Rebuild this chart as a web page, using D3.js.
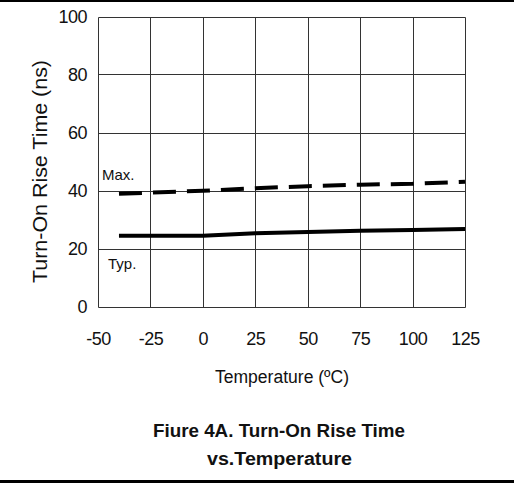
<!DOCTYPE html>
<html>
<head>
<meta charset="utf-8">
<script src="https://cdn.jsdelivr.net/npm/d3@7"></script>
<style>
  body { margin: 0; background: #fff; }
  svg { display: block; font-family: "Liberation Sans", Arial, sans-serif; }
</style>
</head>
<body>
<div id="chart"></div>
<script>
    var width = 514,
        height = 483;

    // temperature (C)
    var temps = [-40, 0, 25, 50, 75, 100, 125];
    // rise time (ns)
    var maxValues = [38.9, 39.9, 40.8, 41.5, 42.0, 42.3, 43.0];
    var typValues = [24.4, 24.4, 25.3, 25.7, 26.1, 26.4, 26.7];

    var xTicks = [-50, -25, 0, 25, 50, 75, 100, 125];
    var yTicks = [0, 20, 40, 60, 80, 100];

    var x = d3.scaleLinear().domain([-50, 125]).range([98, 465]);
    var y = d3.scaleLinear().domain([0, 100]).range([306.5, 16.5]);

    var svg = d3.select("#chart").append("svg")
      .attr("width", width)
      .attr("height", height);

    svg.append("rect").attr("width", width).attr("height", height).attr("fill", "#fff");

    // page rules
    svg.append("rect").attr("x", 0).attr("y", 0).attr("width", width).attr("height", 2).attr("fill", "#000");
    svg.append("rect").attr("x", 0).attr("y", 480).attr("width", width).attr("height", 3).attr("fill", "#000");

    function crisp(v) { return Math.round(v) + 0.5; }

    var grid = svg.append("g").attr("stroke", "#333").attr("stroke-width", 1);

    grid.selectAll(".vx")
      .data(xTicks)
      .enter().append("line")
      .attr("x1", function(d) { return crisp(x(d)); })
      .attr("x2", function(d) { return crisp(x(d)); })
      .attr("y1", crisp(y(100)))
      .attr("y2", crisp(y(0)));

    grid.selectAll(".hy")
      .data(yTicks)
      .enter().append("line")
      .attr("y1", function(d) { return crisp(y(d)); })
      .attr("y2", function(d) { return crisp(y(d)); })
      .attr("x1", crisp(x(-50)))
      .attr("x2", crisp(x(125)));

    // tick labels
    svg.selectAll(".ylab")
      .data(yTicks)
      .enter().append("text")
      .attr("x", 87)
      .attr("y", function(d) { return y(d); })
      .attr("dy", "0.35em")
      .attr("text-anchor", "end")
      .attr("font-size", 18)
      .attr("letter-spacing", -0.5)
      .attr("fill", "#111")
      .text(function(d) { return d; });

    svg.selectAll(".xlab")
      .data(xTicks)
      .enter().append("text")
      .attr("x", function(d) { return x(d) + 0.5; })
      .attr("y", 345)
      .attr("text-anchor", "middle")
      .attr("font-size", 18)
      .attr("letter-spacing", -0.5)
      .attr("fill", "#111")
      .text(function(d) { return d; });

    var line = d3.line()
      .x(function(d, i) { return x(temps[i]); })
      .y(function(d) { return y(d); });

    svg.append("path")
      .datum(maxValues)
      .attr("d", line)
      .attr("fill", "none")
      .attr("stroke", "#000")
      .attr("stroke-width", 4)
      .attr("stroke-dasharray", "23,11");

    svg.append("path")
      .datum(typValues)
      .attr("d", line)
      .attr("fill", "none")
      .attr("stroke", "#000")
      .attr("stroke-width", 4);

    svg.append("text")
      .attr("x", 102).attr("y", 180)
      .attr("font-size", 15)
      .attr("fill", "#111")
      .text("Max.");

    svg.append("text")
      .attr("x", 108).attr("y", 269)
      .attr("font-size", 15)
      .attr("fill", "#111")
      .text("Typ.");

    // axis titles
    svg.append("text")
      .attr("transform", "translate(47,171.5) rotate(-90)")
      .attr("text-anchor", "middle")
      .attr("font-size", 20)
      .attr("textLength", 223)
      .attr("lengthAdjust", "spacingAndGlyphs")
      .attr("fill", "#111")
      .text("Turn-On Rise Time (ns)");

    svg.append("text")
      .attr("x", 282).attr("y", 383)
      .attr("text-anchor", "middle")
      .attr("font-size", 18)
      .attr("textLength", 134)
      .attr("lengthAdjust", "spacingAndGlyphs")
      .attr("fill", "#111")
      .text("Temperature (\u00BAC)");

    // figure caption
    svg.append("text")
      .attr("x", 279).attr("y", 437)
      .attr("text-anchor", "middle")
      .attr("font-size", 18)
      .attr("font-weight", "bold")
      .attr("textLength", 252)
      .attr("lengthAdjust", "spacingAndGlyphs")
      .attr("fill", "#111")
      .text("Fiure 4A. Turn-On Rise Time");

    svg.append("text")
      .attr("x", 279.5).attr("y", 465)
      .attr("text-anchor", "middle")
      .attr("font-size", 18)
      .attr("font-weight", "bold")
      .attr("textLength", 145)
      .attr("lengthAdjust", "spacingAndGlyphs")
      .attr("fill", "#111")
      .text("vs.Temperature");
</script>
</body>
</html>
